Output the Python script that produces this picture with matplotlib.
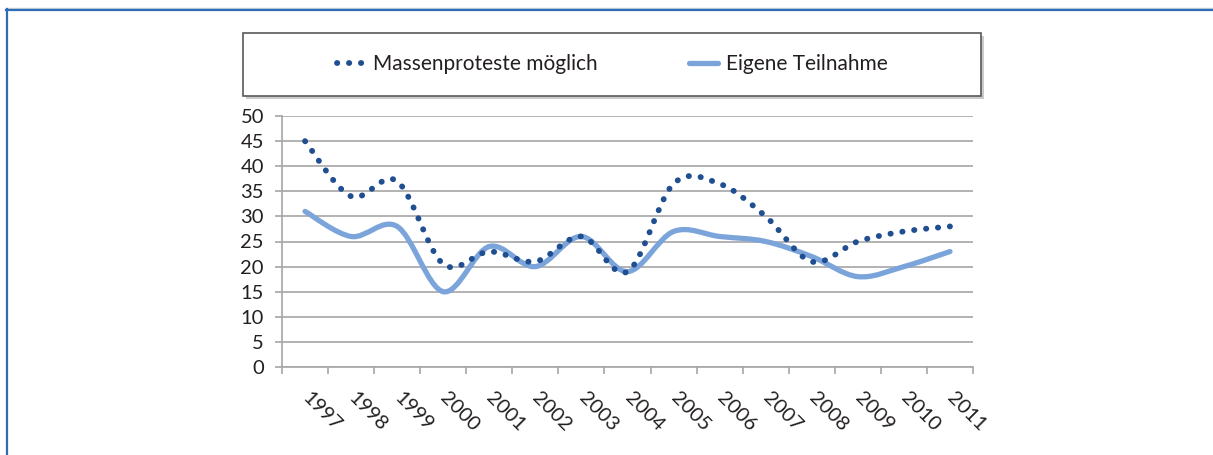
import numpy as np
import matplotlib.pyplot as plt
from matplotlib.path import Path
from matplotlib.patches import PathPatch, Rectangle
from matplotlib.lines import Line2D

plt.rcParams['font.family'] = ['Lato', 'DejaVu Sans']

years = ['1997', '1998', '1999', '2000', '2001', '2002', '2003', '2004',
         '2005', '2006', '2007', '2008', '2009', '2010', '2011']
massen = [45, 34, 37, 20.5, 23, 21, 26, 19, 36.5, 36.5, 30, 21, 25, 27, 28]
teilnahme = [31, 26, 28, 15, 24, 20, 26, 19, 27, 26, 25, 22, 18, 20, 23]

DARK = '#1F4E91'
LIGHT = '#7BA5DA'
GRID = '#A6A6A6'
DOTS = (0, (0.05, 2.0))


def smooth_path(xs, ys):
    # Excel-like smoothed line: Catmull-Rom turned into cubic Bezier segments
    pts = np.column_stack([xs, ys]).astype(float)
    ext = np.vstack([pts[0], pts, pts[-1]])
    verts = [pts[0]]
    codes = [Path.MOVETO]
    for i in range(1, len(ext) - 2):
        p0, p1, p2, p3 = ext[i - 1], ext[i], ext[i + 1], ext[i + 2]
        c1 = p1 + (p2 - p0) / 6
        c2 = p2 - (p3 - p1) / 6
        verts += [c1, c2, p2]
        codes += [Path.CURVE4] * 3
    return Path(verts, codes)


W, H = 1213, 455
fig = plt.figure(figsize=(W / 100, H / 100), dpi=100)

# blue frame lines (top and left)
fig.add_artist(Line2D([6 / W, 1], [1 - 8 / H] * 2, color='#C9D3DD', lw=1))
fig.add_artist(Line2D([6 / W, 1], [1 - 9.5 / H] * 2, color='#2D6DB3', lw=1.6))
fig.add_artist(Line2D([6.5 / W] * 2, [0, 1 - 9 / H], color='#2D6DB3', lw=1.6))

ax = fig.add_axes([282 / W, 1 - 367 / H, (973 - 282) / W, (367 - 116) / H])
xpos = np.arange(len(years)) + 0.5

ax.add_patch(PathPatch(smooth_path(xpos, teilnahme), fill=False, ec=LIGHT,
                       lw=3.8, capstyle='round', joinstyle='round', zorder=3))
ax.add_patch(PathPatch(smooth_path(xpos, massen), fill=False, ec=DARK,
                       lw=4.2, linestyle=DOTS, capstyle='round', zorder=4))

ax.set_xlim(0, len(years))
ax.set_ylim(0, 50)
ax.set_yticks(np.arange(0, 51, 5))
ax.yaxis.grid(True, color=GRID, lw=1.2)
ax.set_axisbelow(True)
ax.set_xticks(np.arange(0, len(years) + 1))
ax.set_xticklabels([])
ax.set_xticks(xpos, minor=True)
ax.set_xticklabels(years, minor=True)
ax.tick_params(axis='x', which='minor', length=0, pad=20, labelsize=14.5,
               labelcolor='#231F20')
ax.tick_params(axis='x', which='major', length=5, color=GRID, width=1.2)
ax.tick_params(axis='y', length=5, color=GRID, width=1.2, pad=8,
               labelsize=14.5, labelcolor='#231F20')
for lab in ax.get_xticklabels(minor=True):
    lab.set_rotation(-45)
    lab.set_rotation_mode('anchor')
    lab.set_ha('left')
    lab.set_va('center')
for s in ['top', 'right']:
    ax.spines[s].set_visible(False)
ax.spines['left'].set_color(GRID)
ax.spines['bottom'].set_color(GRID)
ax.spines['left'].set_linewidth(1.2)
ax.spines['bottom'].set_linewidth(1.2)

# legend box with shadow
fig.add_artist(Rectangle((246 / W, 1 - 99 / H), (981 - 243) / W, 63 / H,
                         transform=fig.transFigure, fc='#BFBFBF', ec='none',
                         alpha=0.8))
fig.add_artist(Rectangle((243 / W, 1 - 96 / H), (981 - 243) / W, 63 / H,
                         transform=fig.transFigure, fc='white', ec='#595959',
                         lw=1.2))
h1 = Line2D([], [], color=DARK, lw=4.2, linestyle=DOTS,
            dash_capstyle='round')
h2 = Line2D([], [], color=LIGHT, lw=3.8, solid_capstyle='round')
fig.legend([h1, h2], ['Massenproteste möglich', 'Eigene Teilnahme'],
           loc='center', bbox_to_anchor=(612 / W, 1 - 64.5 / H), ncol=2,
           frameon=False, fontsize=15, handlelength=1.4, handletextpad=0.35,
           columnspacing=4.4, labelcolor='#231F20')

fig.savefig('out.png', dpi=100)
